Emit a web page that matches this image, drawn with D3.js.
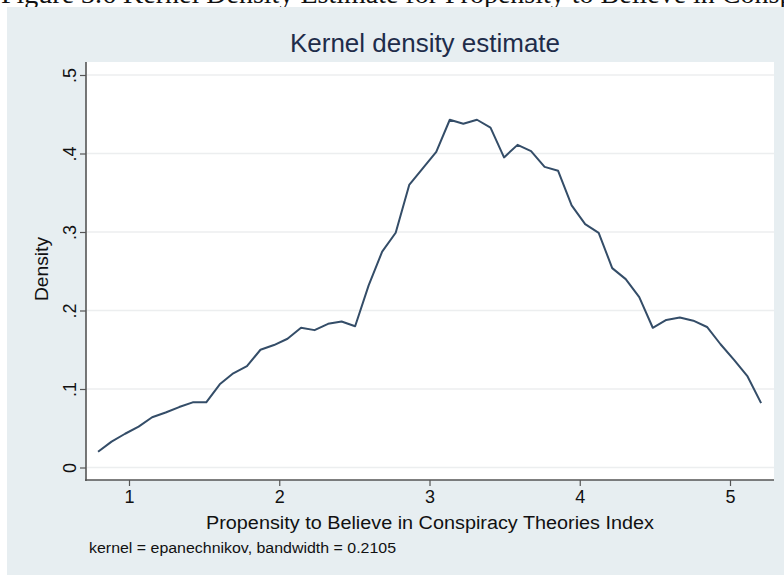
<!DOCTYPE html>
<html>
<head>
<meta charset="utf-8">
<script src="https://cdn.jsdelivr.net/npm/d3@7"></script>
<style>
  body { margin: 0; background: #fff; }
  text { font-family: "Liberation Sans", Arial, sans-serif; }
</style>
</head>
<body>
<div id="chart"></div>
<script>
// Width and height
var w = 784, h = 575;

// Evaluation points of the density
var gridX = [0.794, 0.884, 0.974, 1.064, 1.154, 1.244, 1.334, 1.424, 1.514, 1.604,
             1.694, 1.785, 1.875, 1.965, 2.055, 2.145, 2.235, 2.325, 2.415, 2.505,
             2.595, 2.685, 2.775, 2.865, 2.955, 3.045, 3.135, 3.225, 3.316, 3.406,
             3.496, 3.586, 3.676, 3.766, 3.856, 3.946, 4.036, 4.126, 4.216, 4.306,
             4.396, 4.486, 4.576, 4.666, 4.756, 4.847, 4.937, 5.027, 5.117, 5.207];

var density = [0.020, 0.033, 0.043, 0.052, 0.064, 0.070, 0.077, 0.083, 0.083, 0.106,
               0.120, 0.129, 0.150, 0.156, 0.164, 0.178, 0.175, 0.183, 0.186, 0.180,
               0.232, 0.275, 0.299, 0.360, 0.381, 0.402, 0.443, 0.438, 0.443, 0.433,
               0.395, 0.411, 0.403, 0.383, 0.378, 0.334, 0.310, 0.299, 0.254, 0.240,
               0.217, 0.178, 0.188, 0.191, 0.187, 0.179, 0.157, 0.137, 0.116, 0.082];

var xTicks = [1, 2, 3, 4, 5];
var yTicks = [0, 0.1, 0.2, 0.3, 0.4, 0.5];

var svg = d3.select("#chart")
            .append("svg")
            .attr("width", w)
            .attr("height", h);

// Caption of the document page, cut off at the top as in the scan
svg.append("text")
   .text("Figure 3.6 Kernel Density Estimate for Propensity to Believe in Conspiracy Theories")
   .attr("x", 1).attr("y", 3)
   .style("font-family", "'Liberation Serif', 'Times New Roman', serif")
   .style("font-size", "28px")
   .attr("fill", "#111");

// Stata graph background
svg.append("rect")
   .attr("x", 7).attr("y", 7)
   .attr("width", w - 7).attr("height", h - 7)
   .attr("fill", "#e7eef1");

// Plot region
var plotL = 86, plotR = 774, plotT = 62, plotB = 480;
svg.append("rect")
   .attr("x", plotL).attr("y", plotT)
   .attr("width", plotR - plotL).attr("height", plotB - plotT)
   .attr("fill", "#ffffff");

var x = d3.scaleLinear().domain([1, 5]).range([129, 730]);
var y = d3.scaleLinear().domain([0, 0.5]).range([467.5, 75]);

// Grid lines
svg.append("g")
   .selectAll("line")
   .data(yTicks)
   .enter().append("line")
   .attr("x1", plotL + 1).attr("x2", plotR)
   .attr("y1", function(d) { return y(d); })
   .attr("y2", function(d) { return y(d); })
   .attr("stroke", "#eceeef").attr("stroke-width", 1.5);

// Y axis
var yAxis = d3.axisLeft(y)
              .tickValues(yTicks)
              .tickSize(6)
              .tickFormat(function(d) { return d === 0 ? "0" : d3.format(".1f")(d).replace(/^0/, ""); });

var gy = svg.append("g")
            .attr("transform", "translate(" + plotL + ",0)")
            .call(yAxis);
gy.select(".domain").remove();
gy.append("line")
  .attr("x1", 0).attr("x2", 0).attr("y1", plotT).attr("y2", plotB + 1)
  .attr("stroke", "#555").attr("stroke-width", 1.6);
gy.selectAll(".tick line").attr("stroke", "#555").attr("stroke-width", 1.2);
gy.selectAll(".tick text")
  .attr("transform", "rotate(-90)")
  .attr("x", 0).attr("y", -10).attr("dy", 0)
  .attr("text-anchor", "middle")
  .attr("fill", "#111")
  .style("font-size", "18px");

// X axis
var xAxis = d3.axisBottom(x)
              .tickValues(xTicks)
              .tickSize(6)
              .tickFormat(d3.format("d"));

var gx = svg.append("g")
            .attr("transform", "translate(0," + plotB + ")")
            .call(xAxis);
gx.select(".domain").remove();
gx.append("line")
  .attr("x1", plotL - 1).attr("x2", plotR).attr("y1", 0).attr("y2", 0)
  .attr("stroke", "#555").attr("stroke-width", 1.6);
gx.selectAll(".tick line").attr("stroke", "#555").attr("stroke-width", 1.2);
gx.selectAll(".tick text")
  .attr("y", 10).attr("dy", "0.71em")
  .attr("fill", "#111")
  .style("font-size", "18px");

// Density curve
var line = d3.line()
             .x(function(d, i) { return x(gridX[i]); })
             .y(function(d) { return y(d); });

svg.append("path")
   .datum(density)
   .attr("d", line)
   .attr("fill", "none")
   .attr("stroke", "#344d68")
   .attr("stroke-width", 2)
   .attr("stroke-linejoin", "round");

// Titles
svg.append("text")
   .text("Kernel density estimate")
   .attr("x", 425).attr("y", 52)
   .attr("text-anchor", "middle")
   .attr("textLength", 270).attr("lengthAdjust", "spacingAndGlyphs")
   .attr("fill", "#1e2c4a")
   .style("font-size", "26px");

svg.append("text")
   .text("Density")
   .attr("transform", "translate(48,269) rotate(-90)")
   .attr("text-anchor", "middle")
   .attr("textLength", 64).attr("lengthAdjust", "spacingAndGlyphs")
   .attr("fill", "#111")
   .style("font-size", "18px");

svg.append("text")
   .text("Propensity to Believe in Conspiracy Theories Index")
   .attr("x", 430).attr("y", 529)
   .attr("text-anchor", "middle")
   .attr("textLength", 448).attr("lengthAdjust", "spacingAndGlyphs")
   .attr("fill", "#111")
   .style("font-size", "18px");

svg.append("text")
   .text("kernel = epanechnikov, bandwidth = 0.2105")
   .attr("x", 89).attr("y", 553)
   .attr("textLength", 307).attr("lengthAdjust", "spacingAndGlyphs")
   .attr("fill", "#111")
   .style("font-size", "14px");
</script>
</body>
</html>
